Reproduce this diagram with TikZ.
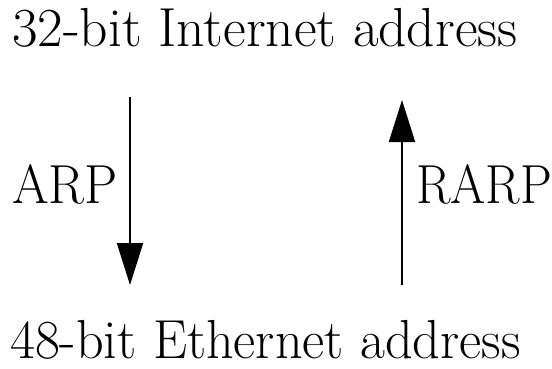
\documentclass[tikz,border=0pt]{standalone}
\usepackage{graphicx}
\usetikzlibrary{arrows.meta}
\begin{document}
\begin{tikzpicture}[x=1pt,y=1pt,
  lbl/.style={inner sep=0pt,anchor=base west,font=\fontsize{55}{60}\selectfont},
  conn/.style={line width=2pt,-{Triangle[width=26pt,length=42pt]}}]
\useasboundingbox (0,0) rectangle (552,368);
\node[lbl] (top) at (12,322) {\scalebox{1.01}[1]{32-bit Internet address}};
\node[lbl] (bot) at (10,10) {\scalebox{0.985}[1]{48-bit Ethernet address}};
\node[lbl] (arp) at (12,165) {\scalebox{0.96}[1]{ARP}};
\node[lbl] (rarp) at (416,165) {\scalebox{0.92}[1]{RARP}};
\coordinate (a1) at (130,271);
\coordinate (a2) at (130,83);
\coordinate (b1) at (402,83);
\coordinate (b2) at (402,268);
\draw[conn] (a1) -- (a2);
\draw[conn] (b1) -- (b2);
\end{tikzpicture}
\end{document}
